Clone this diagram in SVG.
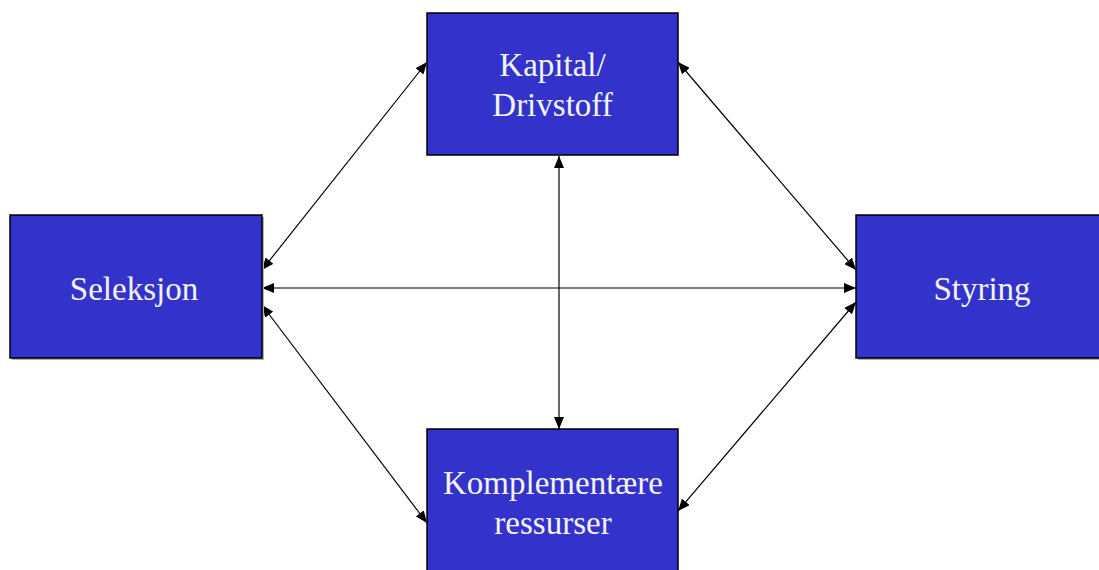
<svg xmlns="http://www.w3.org/2000/svg" width="1099" height="570" viewBox="0 0 1099 570">
<style>
.box{fill:#3333cc;stroke:#000;stroke-width:1.5}
.shadow{fill:#b0b0b0}
.lbl{font-family:"Liberation Serif","Times New Roman",serif;font-size:33px;fill:#f4f4f4;text-anchor:middle}
.conn{stroke:#000;stroke-width:1.2;fill:none;marker-start:url(#ah);marker-end:url(#ah)}
</style>
<defs>
<marker id="ah" viewBox="0 0 12 10" refX="12" refY="5" markerWidth="12" markerHeight="10" markerUnits="userSpaceOnUse" orient="auto-start-reverse">
<path d="M0,0 L12,5 L0,10 z" fill="#000"/>
</marker>
</defs>
<rect width="1099" height="570" fill="#fff"/>
<g id="connectors">
<line class="conn" x1="262" y1="270" x2="427" y2="62"/>
<line class="conn" x1="678" y1="62" x2="856" y2="270"/>
<line class="conn" x1="559" y1="156" x2="559" y2="429"/>
<line class="conn" x1="262" y1="288" x2="856" y2="288"/>
<line class="conn" x1="262" y1="305" x2="427" y2="523"/>
<line class="conn" x1="856" y1="302" x2="678" y2="511"/>
</g>
<g id="kapital">
<rect class="box" x="427" y="13" width="251" height="142"/>
<text class="lbl" x="552.5" y="76">Kapital/</text>
<text class="lbl" x="552.5" y="116">Drivstoff</text>
</g>
<g id="seleksjon">
<rect class="shadow" x="12" y="217" width="252" height="143"/>
<rect class="box" x="10" y="215" width="252" height="143"/>
<text class="lbl" x="134" y="300">Seleksjon</text>
</g>
<g id="styring">
<rect class="shadow" x="858" y="217" width="252" height="143"/>
<rect class="box" x="856" y="215" width="252" height="143"/>
<text class="lbl" x="982" y="300">Styring</text>
</g>
<g id="komplementaere">
<rect class="box" x="427" y="429" width="251" height="150"/>
<text class="lbl" x="553" y="494">Komplementære</text>
<text class="lbl" x="553" y="534">ressurser</text>
</g>
</svg>
